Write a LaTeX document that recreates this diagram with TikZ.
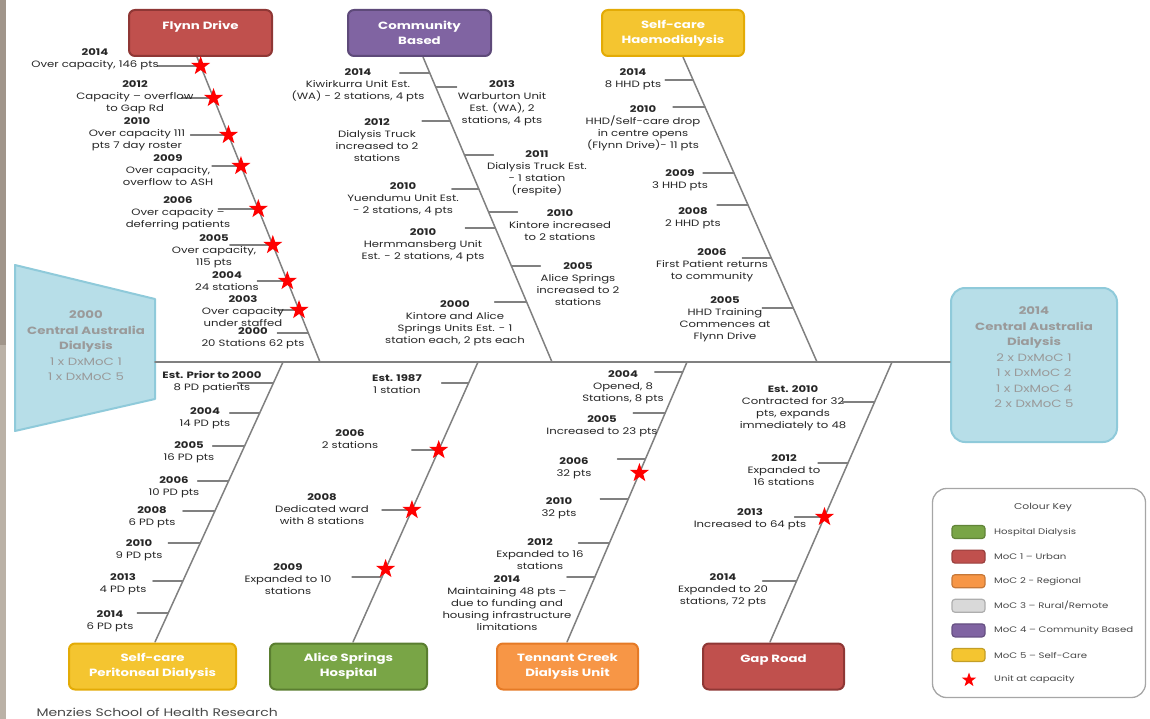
\documentclass[tikz,border=0pt]{standalone}
\usepackage{fontspec}
\setmainfont{Poppins}[FakeStretch=1.27]
\usepackage{tikz}
\usetikzlibrary{shapes.geometric,calc}

\definecolor{fdRed}{HTML}{C0504D}
\definecolor{fdRedD}{HTML}{8F3735}
\definecolor{cbPurple}{HTML}{8064A2}
\definecolor{cbPurpleD}{HTML}{5E4A7A}
\definecolor{scGold}{HTML}{F4C530}
\definecolor{scGoldD}{HTML}{E3AB06}
\definecolor{ahGreen}{HTML}{79A546}
\definecolor{ahGreenD}{HTML}{5A7E30}
\definecolor{tcOrange}{HTML}{F79646}
\definecolor{tcOrangeD}{HTML}{E57A26}
\definecolor{mocGrey}{HTML}{D9D9D9}
\definecolor{mocGreyD}{HTML}{BDBDBD}
\definecolor{hubBlue}{HTML}{B7DEE8}
\definecolor{hubBlueD}{HTML}{8FCADA}
\definecolor{hubText}{HTML}{9A9A9A}
\definecolor{boneGrey}{HTML}{808080}
\definecolor{inkGrey}{HTML}{262626}
\definecolor{slate}{HTML}{A0958A}
\definecolor{slateLt}{HTML}{BAB1A6}

\newcommand{\evfont}{\fontsize{9.2}{12}\selectfont}
\newcommand{\yr}[1]{\textbf{#1}}

\tikzset{
    cause/.style={rounded corners=6pt,line width=2pt,text=white,align=center,
        minimum height=46pt,inner sep=0pt,font=\fontsize{10.5}{15}\selectfont\bfseries},
    event/.style={align=center,text=inkGrey,inner sep=0pt,font=\evfont},
    bone/.style={draw=boneGrey,line width=1.5pt},
    tick/.style={draw=boneGrey,line width=1.2pt},
    capstar/.style={star,star points=5,star point ratio=2.5,fill=red,
        minimum size=20pt,inner sep=0pt},
    hub/.style={fill=hubBlue,draw=hubBlueD,line width=2pt,text=hubText,align=center,
        font=\fontsize{10.5}{15.5}\selectfont},
    swatch/.style={rounded corners=3pt,line width=1.2pt,minimum width=33pt,minimum height=13pt},
    keytext/.style={text=inkGrey!85,inner sep=0pt,font=\fontsize{8}{10}\selectfont}
}

% tick on a top bone (y from 57 to 362) and on a bottom bone (y from 362 to 642)
\newcommand{\twigup}[4]{
    \path (#1T) -- (#1B) coordinate[pos={(#2-57)/305}] (#4);
    \draw[tick] (#4) -- ++(#3,0) coordinate (#4e);
}
\newcommand{\twigdn}[4]{
    \path (#1T) -- (#1B) coordinate[pos={(#2-362)/280}] (#4);
    \draw[tick] (#4) -- ++(#3,0) coordinate (#4e);
}

\begin{document}
\begin{tikzpicture}[x=1pt,y=-1pt,line cap=round,line join=round]

        % --- Canvas ---
        \useasboundingbox (0,0) rectangle (1150,719);
        \fill[slate] (0,0) rectangle (6,345);
        \fill[slateLt] (0,345) rectangle (6,719);

        % --- Variables ---
        \coordinate (fdT) at (197,57);  \coordinate (fdB) at (320,362);
        \coordinate (cbT) at (423,57);  \coordinate (cbB) at (552,362);
        \coordinate (shT) at (683,57);  \coordinate (shB) at (817,362);
        \coordinate (pdT) at (283,362); \coordinate (pdB) at (155,642);
        \coordinate (ahT) at (478,362); \coordinate (ahB) at (353,642);
        \coordinate (tcT) at (687,362); \coordinate (tcB) at (567,642);
        \coordinate (grT) at (892,362); \coordinate (grB) at (770,642);
        \coordinate (tzR) at (155,362);

        % Start and end of the timeline
        \draw[fill=hubBlue,draw=hubBlueD,line width=2pt] (15,265) -- (tzR |- 0,299) -- (tzR |- 0,399) -- (15,431) -- cycle;
        \node[hub,fill=none,draw=none] (ca00) at (86,346) {\textbf{2000}\\\textbf{Central Australia}\\\textbf{Dialysis}\\1 x DxMoC 1\\1 x DxMoC 5};

        \node[hub,rounded corners=14pt,minimum width=166pt,minimum height=154pt] (ca14) at (1034,365)
            {\textbf{2014}\\\textbf{Central Australia}\\\textbf{Dialysis}\\2 x DxMoC 1\\1 x DxMoC 2\\1 x DxMoC 4\\2 x DxMoC 5\\~};

        % Spine
        \draw[bone] (tzR) -- (ca14.west |- tzR);

        % Bones
        \draw[bone] (fdT) -- (fdB);
        \draw[bone] (cbT) -- (cbB);
        \draw[bone] (shT) -- (shB);
        \draw[bone] (pdT) -- (pdB);
        \draw[bone] (ahT) -- (ahB);
        \draw[bone] (tcT) -- (tcB);
        \draw[bone] (grT) -- (grB);

        % Units
        \node[cause,fill=fdRed,draw=fdRedD,minimum width=143pt] (fd) at (200.5,33) {Flynn Drive\\~};
        \node[cause,fill=cbPurple,draw=cbPurpleD,minimum width=143pt] (cb) at (419.5,33) {Community\\Based};
        \node[cause,fill=scGold,draw=scGoldD,minimum width=142pt] (sh) at (673,33) {Self-care\\Haemodialysis};
        \node[cause,fill=scGold,draw=scGoldD,minimum width=167pt] (pd) at (152.5,666.5) {Self-care\\Peritoneal Dialysis};
        \node[cause,fill=ahGreen,draw=ahGreenD,minimum width=157pt] (ah) at (348.5,666.5) {Alice Springs\\Hospital};
        \node[cause,fill=tcOrange,draw=tcOrangeD,minimum width=141pt] (tc) at (567.5,666.5) {Tennant Creek\\Dialysis Unit};
        \node[cause,fill=fdRed,draw=fdRedD,minimum width=141pt] (gr) at (773.5,666.5) {Gap Road\\~};

        % --- Flynn Drive ---
        \twigup{fd}{66}{-43}{fd14}
        \twigup{fd}{98}{-32}{fd12}
        \twigup{fd}{135}{-38}{fd10}
        \twigup{fd}{166}{-29}{fd09}
        \twigup{fd}{209}{-40}{fd06}
        \twigup{fd}{245}{-43}{fd05}
        \twigup{fd}{281}{-30}{fd04}
        \twigup{fd}{310}{-22}{fd03}
        \twigup{fd}{333}{-31}{fd00}

        \node[event] (fdL14) at (95,59.5) {\yr{2014}\\Over capacity, 146 pts};
        \node[event] (fdL12) at (135,97) {\yr{2012}\\Capacity – overflow\\to Gap Rd};
        \node[event] (fdL10) at (137,134.5) {\yr{2010}\\Over capacity 111\\pts 7 day roster};
        \node[event] (fdL09) at (168,170) {\yr{2009}\\Over capacity,\\overflow to ASH};
        \node[event] (fdL06) at (178,213.5) {\yr{2006}\\Over capacity –\\deferring patients};
        \node[event] (fdL05) at (214,251.5) {\yr{2005}\\Over capacity,\\115 pts};
        \node[event] (fdL04) at (227,281.5) {\yr{2004}\\24 stations};
        \node[event] (fdL03) at (243,311.5) {\yr{2003}\\Over capacity\\under staffed};
        \node[event] (fdL00) at (253,338.5) {\yr{2000}\\20 Stations 62 pts};

        \foreach \s in {fd14,fd12,fd10,fd09,fd06,fd05,fd04,fd03}
            \node[capstar] at (\s) {};

        % --- Community Based ---
        \twigup{cb}{73}{-30}{cb14}
        \twigup{cb}{121}{-28}{cb12}
        \twigup{cb}{189}{-27}{cb10a}
        \twigup{cb}{228}{-30}{cb10b}
        \twigup{cb}{302}{-32}{cb00}
        \twigup{cb}{87}{21}{cb13}
        \twigup{cb}{155}{29}{cb11}
        \twigup{cb}{212}{29}{cb10c}
        \twigup{cb}{266}{29}{cb05}

        \node[event] (cbL14) at (358,85.5) {\yr{2014}\\Kiwirkurra Unit Est.\\(WA) - 2 stations, 4 pts};
        \node[event] (cbL12) at (377,140) {\yr{2012}\\Dialysis Truck\\increased to 2\\stations};
        \node[event] (cbL10a) at (403,199) {\yr{2010}\\Yuendumu Unit Est.\\- 2 stations, 4 pts};
        \node[event] (cbL10b) at (423,245) {\yr{2010}\\Hermmansberg Unit\\Est. - 2 stations, 4 pts};
        \node[event] (cbL00) at (455,323) {\yr{2000}\\Kintore and Alice\\Springs Units Est. - 1\\station each, 2 pts each};
        \node[event] (cbL13) at (502,103.5) {\yr{2013}\\Warburton Unit\\Est. (WA), 2\\stations, 4 pts};
        \node[event] (cbL11) at (537,173.5) {\yr{2011}\\Dialysis Truck Est.\\- 1 station\\(respite)};
        \node[event] (cbL10c) at (560,225) {\yr{2010}\\Kintore increased\\to 2 stations};
        \node[event] (cbL05) at (578,284) {\yr{2005}\\Alice Springs\\increased to 2\\stations};

        % --- Self-care Haemodialysis ---
        \twigup{sh}{80}{-28}{sh14}
        \twigup{sh}{107}{-32}{sh10}
        \twigup{sh}{173}{-31}{sh09}
        \twigup{sh}{205}{-31}{sh08}
        \twigup{sh}{258}{-29}{sh06}
        \twigup{sh}{308}{-31}{sh05}

        \node[event] (shL14) at (633,79) {\yr{2014}\\8 HHD pts};
        \node[event] (shL10) at (643,128.5) {\yr{2010}\\HHD/Self-care drop\\in centre opens\\(Flynn Drive)- 11 pts};
        \node[event] (shL09) at (680,180.5) {\yr{2009}\\3 HHD pts};
        \node[event] (shL08) at (693,218) {\yr{2008}\\2 HHD pts};
        \node[event] (shL06) at (712,265) {\yr{2006}\\First Patient returns\\to community};
        \node[event] (shL05) at (725,319) {\yr{2005}\\HHD Training\\Commences at\\Flynn Drive};

        % --- Self-care Peritoneal Dialysis ---
        \twigdn{pd}{383}{-36}{pd00}
        \twigdn{pd}{413}{-30}{pd04}
        \twigdn{pd}{446}{-32}{pd05}
        \twigdn{pd}{481}{-31}{pd06}
        \twigdn{pd}{511}{-32}{pd08}
        \twigdn{pd}{543}{-32}{pd10}
        \twigdn{pd}{581}{-30}{pd13}
        \twigdn{pd}{613}{-31}{pd14}

        \node[event] (pdL00) at (212,382) {\yr{Est. Prior to 2000}\\8 PD patients};
        \node[event] (pdL04) at (205,418.5) {\yr{2004}\\14 PD pts};
        \node[event] (pdL05) at (189,452.5) {\yr{2005}\\16 PD pts};
        \node[event] (pdL06) at (174,487) {\yr{2006}\\10 PD pts};
        \node[event] (pdL08) at (152,517) {\yr{2008}\\6 PD pts};
        \node[event] (pdL10) at (139,550) {\yr{2010}\\9 PD pts};
        \node[event] (pdL13) at (123,584) {\yr{2013}\\4 PD pts};
        \node[event] (pdL14) at (110,621) {\yr{2014}\\6 PD pts};

        % --- Alice Springs Hospital ---
        \twigdn{ah}{383}{-27}{ah87}
        \twigdn{ah}{450}{-27}{ah06}
        \twigdn{ah}{510}{-30}{ah08}
        \twigdn{ah}{577}{-30}{ah09}

        \node[event] (ahL87) at (397,384) {\yr{Est. 1987}\\1 station};
        \node[event] (ahL06) at (350,439.5) {\yr{2006}\\2 stations};
        \node[event] (ahL08) at (322,509.5) {\yr{2008}\\Dedicated ward\\with 8 stations};
        \node[event] (ahL09) at (288,579.5) {\yr{2009}\\Expanded to 10\\stations};

        \path (ahT) -- (ahB) coordinate[pos={(569-362)/280}] (ahX);
        \foreach \s in {ah06,ah08,ahX}
            \node[capstar] at (\s) {};

        % --- Tennant Creek Dialysis Unit ---
        \twigdn{tc}{372}{-28}{tc04}
        \twigdn{tc}{413}{-32}{tc05}
        \twigdn{tc}{459}{-28}{tc06}
        \twigdn{tc}{499}{-28}{tc10}
        \twigdn{tc}{543}{-31}{tc12}
        \twigdn{tc}{577}{-28}{tc14}

        \node[event] (tcL04) at (623,387) {\yr{2004}\\Opened, 8\\Stations, 8 pts};
        \node[event] (tcL05) at (602,426.5) {\yr{2005}\\Increased to 23 pts};
        \node[event] (tcL06) at (574,468) {\yr{2006}\\32 pts};
        \node[event] (tcL10) at (559,508.5) {\yr{2010}\\32 pts};
        \node[event] (tcL12) at (540,554) {\yr{2012}\\Expanded to 16\\stations};
        \node[event] (tcL14) at (507,603) {\yr{2014}\\Maintaining 48 pts –\\due to funding and\\housing infrastructure\\limitations};

        \path (tcT) -- (tcB) coordinate[pos={(473-362)/280}] (tcX);
        \node[capstar] at (tcX) {};

        % --- Gap Road ---
        \twigdn{gr}{402}{-32}{gr10}
        \twigdn{gr}{463}{-30}{gr12}
        \twigdn{gr}{517}{-30}{gr13}
        \twigdn{gr}{581}{-34}{gr14}

        \node[event] (grL10) at (793,408) {\yr{Est. 2010}\\Contracted for 32\\pts, expands\\immediately to 48};
        \node[event] (grL12) at (784,470.5) {\yr{2012}\\Expanded to\\16 stations};
        \node[event] (grL13) at (750,519.5) {\yr{2013}\\Increased to 64 pts};
        \node[event] (grL14) at (723,590.5) {\yr{2014}\\Expanded to 20\\stations, 72 pts};

        \node[capstar] at (gr13) {};

        % --- Colour key ---
        \node[draw=black!35,line width=1.3pt,rounded corners=14pt,minimum width=213pt,minimum height=209pt] (key) at (1039,593) {};
        \node[keytext,font=\fontsize{8.5}{10}\selectfont] (keyT) at (1043,507) {Colour Key};
        \foreach \c/\t [count=\i] in {ahGreen/{Hospital Dialysis},fdRed/{MoC 1 – Urban},tcOrange/{MoC 2 - Regional},
                mocGrey/{MoC 3 – Rural/Remote},cbPurple/{MoC 4 – Community Based},scGold/{MoC 5 – Self-Care}} {
            \node[swatch,fill=\c,draw=\c!80!black] (sw\i) at (968.5,{532+24.6*(\i-1)}) {};
            \node[keytext,anchor=west] (kt\i) at (994,{532+24.6*(\i-1)}) {\t};
        }
        \node[capstar,minimum size=15pt] (sw7) at (969,680) {};
        \node[keytext,anchor=west] (kt7) at (994,679) {Unit at capacity};

        % Footer
        \node[text=inkGrey!85,font=\fontsize{11}{12}\selectfont,anchor=west] (src) at (33,712) {Menzies School of Health Research};

    \end{tikzpicture}
\end{document}
